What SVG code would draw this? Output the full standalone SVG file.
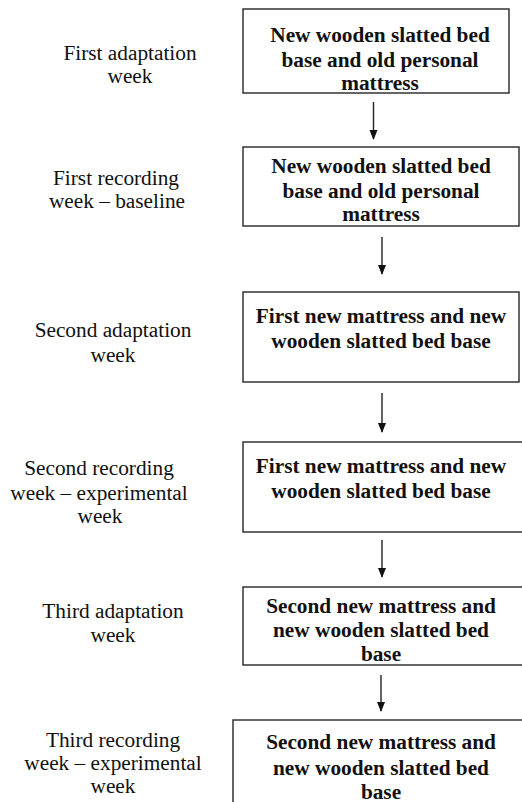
<svg xmlns="http://www.w3.org/2000/svg" width="522" height="802" viewBox="0 0 522 802">
<style>
.box{fill:#fff;stroke:#333;stroke-width:1.5}
.bt{font-weight:bold;font-size:21.3px;fill:#111;text-anchor:middle}
.lt{font-size:21.3px;fill:#111;text-anchor:middle}
.conn{stroke:#222;stroke-width:1.4;fill:none;marker-end:url(#ah)}
</style>
<defs>
<marker id="ah" markerUnits="userSpaceOnUse" markerWidth="10" markerHeight="12" refX="9" refY="4" orient="auto" viewBox="0 0 10 8">
<path d="M0,0 L10,4 L0,8 Z" fill="#111"/>
</marker>
</defs>
<rect width="522" height="802" fill="#fff"/>
<g font-family="Liberation Serif, Tinos, DejaVu Serif, serif">
<g id="labels">
<text class="lt" x="130" y="60">First adaptation</text>
<text class="lt" x="130" y="83">week</text>
<text class="lt" x="116" y="185">First recording</text>
<text class="lt" x="117" y="208">week – baseline</text>
<text class="lt" x="113" y="337">Second adaptation</text>
<text class="lt" x="113" y="362">week</text>
<text class="lt" x="99" y="475">Second recording</text>
<text class="lt" x="99" y="500">week – experimental</text>
<text class="lt" x="100" y="523">week</text>
<text class="lt" x="113" y="618">Third adaptation</text>
<text class="lt" x="113" y="642">week</text>
<text class="lt" x="113" y="747">Third recording</text>
<text class="lt" x="113" y="770">week – experimental</text>
<text class="lt" x="113" y="793">week</text>
</g>
<g id="node1">
<rect class="box" x="243" y="9" width="266" height="84"/>
<text class="bt" x="380" y="42">New wooden slatted bed</text>
<text class="bt" x="380" y="67">base and old personal</text>
<text class="bt" x="380" y="90">mattress</text>
</g>
<g id="node2">
<rect class="box" x="243" y="147" width="276" height="79"/>
<text class="bt" x="381" y="173">New wooden slatted bed</text>
<text class="bt" x="381" y="198">base and old personal</text>
<text class="bt" x="381" y="221">mattress</text>
</g>
<g id="node3">
<rect class="box" x="243" y="292" width="276" height="90"/>
<text class="bt" x="381" y="323">First new mattress and new</text>
<text class="bt" x="381" y="348">wooden slatted bed base</text>
</g>
<g id="node4">
<rect class="box" x="243" y="442" width="285" height="90"/>
<text class="bt" x="381" y="473">First new mattress and new</text>
<text class="bt" x="381" y="498">wooden slatted bed base</text>
</g>
<g id="node5">
<rect class="box" x="243" y="587" width="285" height="78"/>
<text class="bt" x="381" y="613">Second new mattress and</text>
<text class="bt" x="381" y="637">new wooden slatted bed</text>
<text class="bt" x="381" y="661">base</text>
</g>
<g id="node6">
<rect class="box" x="233" y="720" width="295" height="100"/>
<text class="bt" x="381" y="749" font-size="21.6">Second new mattress and</text>
<text class="bt" x="381" y="775" font-size="21.6">new wooden slatted bed</text>
<text class="bt" x="381" y="799" font-size="21.6">base</text>
</g>
</g>
<g id="connectors">
<line class="conn" x1="373.5" y1="102" x2="373.5" y2="139"/>
<line class="conn" x1="382" y1="237" x2="382" y2="274"/>
<line class="conn" x1="382" y1="393" x2="382" y2="432"/>
<line class="conn" x1="382" y1="540" x2="382" y2="577"/>
<line class="conn" x1="381" y1="675" x2="381" y2="711"/>
</g>
</svg>
